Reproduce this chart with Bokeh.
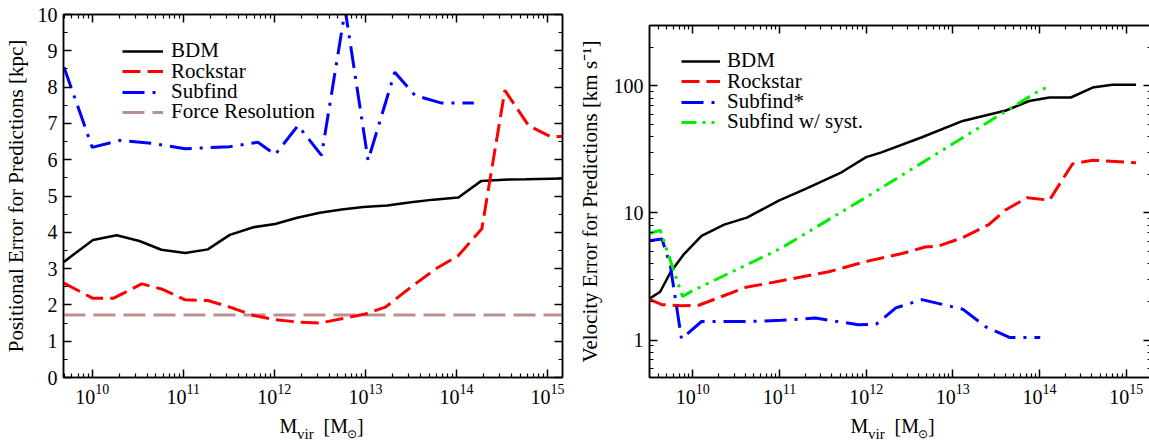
from bokeh.plotting import figure
from bokeh.models import (LogAxis, LinearAxis, FixedTicker, Legend, LegendItem,
                          Label, Range1d, PrintfTickFormatter, CustomJSTickFormatter, Spacer)
from bokeh.layouts import row, column
from bokeh.embed import file_html
from bokeh.resources import INLINE

SERIF = "Liberation Serif"

# ---------------- Left panel: positional error [kpc] ----------------
pos_bdm_mass = [4.9e9, 5.6e9, 1.02e10, 1.86e10, 3.3e10, 5.75e10, 1.05e11, 1.86e11,
                3.24e11, 5.9e11, 1.02e12, 1.78e12, 3.16e12, 5.5e12, 9.5e12, 1.74e13,
                3.16e13, 5.6e13, 1.05e14, 1.86e14, 3.3e14, 5.75e14, 1.48e15]
pos_bdm_err = [3.18, 3.30, 3.79, 3.92, 3.76, 3.52, 3.43, 3.53, 3.93, 4.14, 4.23, 4.40,
               4.54, 4.63, 4.70, 4.74, 4.83, 4.90, 4.96, 5.41, 5.45, 5.46, 5.48]

pos_rock_mass = [4.9e9, 1.02e10, 1.7e10, 3.5e10, 5.75e10, 1.05e11, 1.86e11, 3.24e11,
                 5.9e11, 1.02e12, 1.78e12, 3.16e12, 5.5e12, 1.0e13, 1.66e13, 3.24e13,
                 5.9e13, 1.05e14, 1.9e14, 3.4e14, 6.2e14, 1.07e15, 1.48e15]
pos_rock_err = [2.60, 2.18, 2.18, 2.58, 2.44, 2.14, 2.12, 1.94, 1.71, 1.59, 1.53, 1.50,
                1.62, 1.75, 1.94, 2.51, 2.99, 3.36, 4.10, 7.91, 6.94, 6.64, 6.64]

pos_subf_mass = [4.9e9, 1.0e10, 2.0e10, 4.5e10, 1.05e11, 3.24e11, 6.6e11, 1.02e12,
                 1.82e12, 3.3e12, 6.0e12, 1.07e13, 2.1e13, 3.5e13, 6.9e13, 1.55e14]
pos_subf_err = [8.55, 6.34, 6.53, 6.45, 6.30, 6.36, 6.48, 6.14, 6.94, 6.12, 10.13,
                5.98, 8.41, 7.77, 7.56, 7.56]

force_res_mass = [4.84e9, 1.46e15]
force_res_err = [1.72, 1.72]

# ---------------- Right panel: velocity error [km/s] ----------------
vel_bdm_mass = [3.1e9, 4.2e9, 5.5e9, 7.8e9, 1.26e10, 2.3e10, 4.2e10, 9.8e10, 2.0e11,
                5.2e11, 1.0e12, 1.5e12, 4.4e12, 1.3e13, 4.1e13, 7.6e13, 1.3e14,
                2.3e14, 4.1e14, 6.9e14, 1.3e15]
vel_bdm_err = [2.1, 2.4, 3.4, 4.7, 6.6, 8.1, 9.2, 12.5, 15.5, 20.9, 27.5, 30.0, 39.4,
               53.0, 64.0, 76.0, 81.0, 81.0, 97.0, 102.0, 102.0]

vel_rock_mass = [3.1e9, 4.4e9, 7.4e9, 1.17e10, 2.0e10, 4.1e10, 9.8e10, 3.7e11, 1.07e12,
                 2.6e12, 4.8e12, 6.9e12, 1.3e13, 2.6e13, 4.0e13, 7.2e13, 1.3e14,
                 2.4e14, 4.1e14, 1.3e15]
vel_rock_err = [2.1, 1.9, 1.86, 1.88, 2.16, 2.6, 2.9, 3.45, 4.2, 4.8, 5.4, 5.5, 6.4,
                8.1, 10.5, 13.2, 12.6, 24.3, 26.0, 24.8]

vel_subf_mass = [3.1e9, 4.4e9, 5.5e9, 7.4e9, 1.26e10, 4.1e10, 1.07e11, 2.6e11, 8.1e11,
                 1.3e12, 2.2e12, 4.4e12, 1.3e13, 2.4e13, 4.5e13, 1.02e14]
vel_subf_err = [6.05, 6.24, 3.85, 1.02, 1.40, 1.40, 1.43, 1.49, 1.32, 1.33, 1.79,
                2.08, 1.75, 1.27, 1.05, 1.05]

vel_syst_mass = [3.1e9, 4.2e9, 7.6e9, 1.0e10, 1.0e11, 1.0e12, 1.0e13, 1.0e14, 1.35e14]
vel_syst_err = [6.9, 7.3, 2.2, 2.45, 5.2, 13.3, 35.0, 92.0, 100.0]

# ---------------- Ticks ----------------
mass_major_ticks = [1e9, 1e10, 1e11, 1e12, 1e13, 1e14, 1e15, 1e16]
mass_minor_ticks = [k * d for d in mass_major_ticks for k in range(2, 10)]
pos_major_ticks = list(range(0, 11))
pos_minor_ticks = [i + 0.5 for i in range(0, 10)]
vel_major_ticks = [1, 10, 100]
vel_minor_ticks = [k * d for d in [0.1, 1, 10, 100] for k in range(2, 10)]

MAIN_TOP = 14             # border above the left frame
RIGHT_DROP = 11           # the right frame starts this much lower
MAIN_BOTTOM = 34          # border under each frame (tick labels)
LABEL_ROW_H = 443 - 377 - MAIN_BOTTOM


def style_axis(ax, labels=True):
    ax.axis_line_color = "black"
    ax.axis_line_width = 1.5
    ax.major_tick_in = 8
    ax.major_tick_out = 0
    ax.minor_tick_in = 4
    ax.minor_tick_out = 0
    ax.major_tick_line_color = "black"
    ax.minor_tick_line_color = "black"
    ax.major_tick_line_width = 1.5
    ax.minor_tick_line_width = 1.2
    ax.major_label_text_font = SERIF
    ax.major_label_text_font_size = "20px"
    ax.major_label_text_color = "black"
    ax.axis_label_text_font = SERIF
    ax.axis_label_text_font_style = "normal"
    ax.axis_label_text_font_size = "21px"
    ax.axis_label_text_color = "black"
    if not labels:
        ax.formatter = CustomJSTickFormatter(code="return ''")
        ax.major_label_text_font_size = "0px"
        ax.major_label_standoff = 0
        ax.axis_label_standoff = 0


def make_fig(x_range, y_range, y_log, fw, fh, bl, br):
    p = figure(x_axis_type="log", y_axis_type="log" if y_log else "linear",
               x_range=x_range, y_range=y_range, title=None,
               frame_width=fw, frame_height=fh,
               min_border_left=bl, min_border_right=br, min_border_top=MAIN_TOP,
               min_border_bottom=MAIN_BOTTOM,
               output_backend="svg", toolbar_location=None)
    p.xgrid.visible = False
    p.ygrid.visible = False
    p.outline_line_color = "black"
    p.outline_line_width = 1.5
    p.background_fill_color = "white"
    p.border_fill_color = "white"
    return p


def add_legend(p, renderer, text, x, y, gw, standoff):
    leg = Legend(items=[LegendItem(label=text, renderers=[renderer])],
                 location=(x, y), padding=0, margin=0, spacing=0,
                 glyph_width=gw, glyph_height=20, label_height=20,
                 label_standoff=standoff, label_text_font=SERIF,
                 label_text_font_size="21px", label_text_color="black",
                 background_fill_alpha=0, border_line_color=None)
    p.add_layout(leg)


def mass_label_fig(width, x0):
    # a small strip under a panel that carries the axis title M_vir [M_sun]
    q = figure(width=width, height=LABEL_ROW_H, x_range=Range1d(0, width),
               y_range=Range1d(0, LABEL_ROW_H), title=None, min_border=0,
               x_axis_location=None, y_axis_location=None,
               output_backend="svg", toolbar_location=None)
    q.xgrid.visible = False
    q.ygrid.visible = False
    q.outline_line_color = None
    q.background_fill_color = "white"
    q.border_fill_color = "white"
    base = LABEL_ROW_H - (425 - 377 - MAIN_BOTTOM)
    parts = [("M", 0, 0, "20px"), ("vir", 17.5, -8, "15px"), ("[M", 44, 0, "20px"),
             ("\u2299", 67.5, -8, "12px"), ("]", 77.5, 0, "20px")]
    for txt, dx, dy, fs in parts:
        q.add_layout(Label(x=x0 + dx, y=base + dy, x_units="screen", y_units="screen",
                           text=txt, text_font=SERIF, text_font_size=fs,
                           text_color="black", text_align="left",
                           text_baseline="alphabetic"))
    return q


# ---------------- Left figure ----------------
p1 = make_fig(Range1d(4.84e9, 1.46e15), Range1d(0, 10), False, 499, 363, 62, 12)
bx = p1.xaxis[0]
bx.ticker = FixedTicker(ticks=mass_major_ticks, minor_ticks=mass_minor_ticks)
style_axis(bx)
bx.major_label_standoff = 6
ly = p1.yaxis[0]
ly.ticker = FixedTicker(ticks=pos_major_ticks, minor_ticks=pos_minor_ticks)
style_axis(ly)
ly.major_label_standoff = 6
ly.axis_label = "Positional Error for Predictions [kpc]"
ly.axis_label_standoff = 7
top1 = LogAxis(ticker=FixedTicker(ticks=mass_major_ticks, minor_ticks=mass_minor_ticks))
style_axis(top1, labels=False)
p1.add_layout(top1, "above")
right1 = LinearAxis(ticker=FixedTicker(ticks=pos_major_ticks, minor_ticks=pos_minor_ticks))
style_axis(right1, labels=False)
p1.add_layout(right1, "right")

r_force = p1.line(force_res_mass, force_res_err, line_color="#bc8f8f", line_width=3,
                  line_dash="22 8")
r_bdm1 = p1.line(pos_bdm_mass, pos_bdm_err, line_color="black", line_width=2.5)
r_rock1 = p1.line(pos_rock_mass, pos_rock_err, line_color="#ff0000", line_width=3,
                  line_dash="18 7")
r_subf1 = p1.line(pos_subf_mass, pos_subf_err, line_color="#0000ff", line_width=3,
                  line_dash="22 8 3 8")

add_legend(p1, r_bdm1, "BDM", 59, 314, 41, 8)
add_legend(p1, r_rock1, "Rockstar", 59, 293.5, 41, 8)
add_legend(p1, r_subf1, "Subfind", 59, 273, 41, 8)
add_legend(p1, r_force, "Force Resolution", 59, 253, 41, 8)

# ---------------- Right figure ----------------
p2 = make_fig(Range1d(3.16e9, 1.96e15), Range1d(0.5076, 298.5), True, 502, 352, 67, 7)
bx2 = p2.xaxis[0]
bx2.ticker = FixedTicker(ticks=mass_major_ticks, minor_ticks=mass_minor_ticks)
style_axis(bx2)
bx2.major_label_standoff = 6
ly2 = p2.yaxis[0]
ly2.ticker = FixedTicker(ticks=vel_major_ticks, minor_ticks=vel_minor_ticks)
ly2.formatter = PrintfTickFormatter(format="%d")
style_axis(ly2)
ly2.major_label_standoff = 6
ly2.axis_label = "Velocity Error for Predictions [km s\u207b\u00b9]"
ly2.axis_label_standoff = 9
top2 = LogAxis(ticker=FixedTicker(ticks=mass_major_ticks, minor_ticks=mass_minor_ticks))
style_axis(top2, labels=False)
p2.add_layout(top2, "above")
right2 = LogAxis(ticker=FixedTicker(ticks=vel_major_ticks, minor_ticks=vel_minor_ticks))
style_axis(right2, labels=False)
p2.add_layout(right2, "right")

r_bdm2 = p2.line(vel_bdm_mass, vel_bdm_err, line_color="black", line_width=2.5)
r_rock2 = p2.line(vel_rock_mass, vel_rock_err, line_color="#ff0000", line_width=3,
                  line_dash="18 7")
r_subf2 = p2.line(vel_subf_mass, vel_subf_err, line_color="#0000ff", line_width=3,
                  line_dash="22 8 3 8")
r_syst2 = p2.line(vel_syst_mass, vel_syst_err, line_color="#00ee00", line_width=3,
                  line_dash="15 6 3 6 3 6")

add_legend(p2, r_bdm2, "BDM", 32, 304, 39, 7)
add_legend(p2, r_rock2, "Rockstar", 32, 283.5, 39, 7)
add_legend(p2, r_subf2, "Subfind*", 32, 263, 39, 7)
add_legend(p2, r_syst2, "Subfind w/ syst.", 32, 243, 39, 7)

lab1 = mass_label_fig(573, 279)
lab2 = mass_label_fig(576, 277)

top_row = row(p1, column(Spacer(width=576, height=RIGHT_DROP), p2))
layout = column(top_row, row(lab1, lab2))
open("out.html", "w").write(file_html(layout, INLINE))
